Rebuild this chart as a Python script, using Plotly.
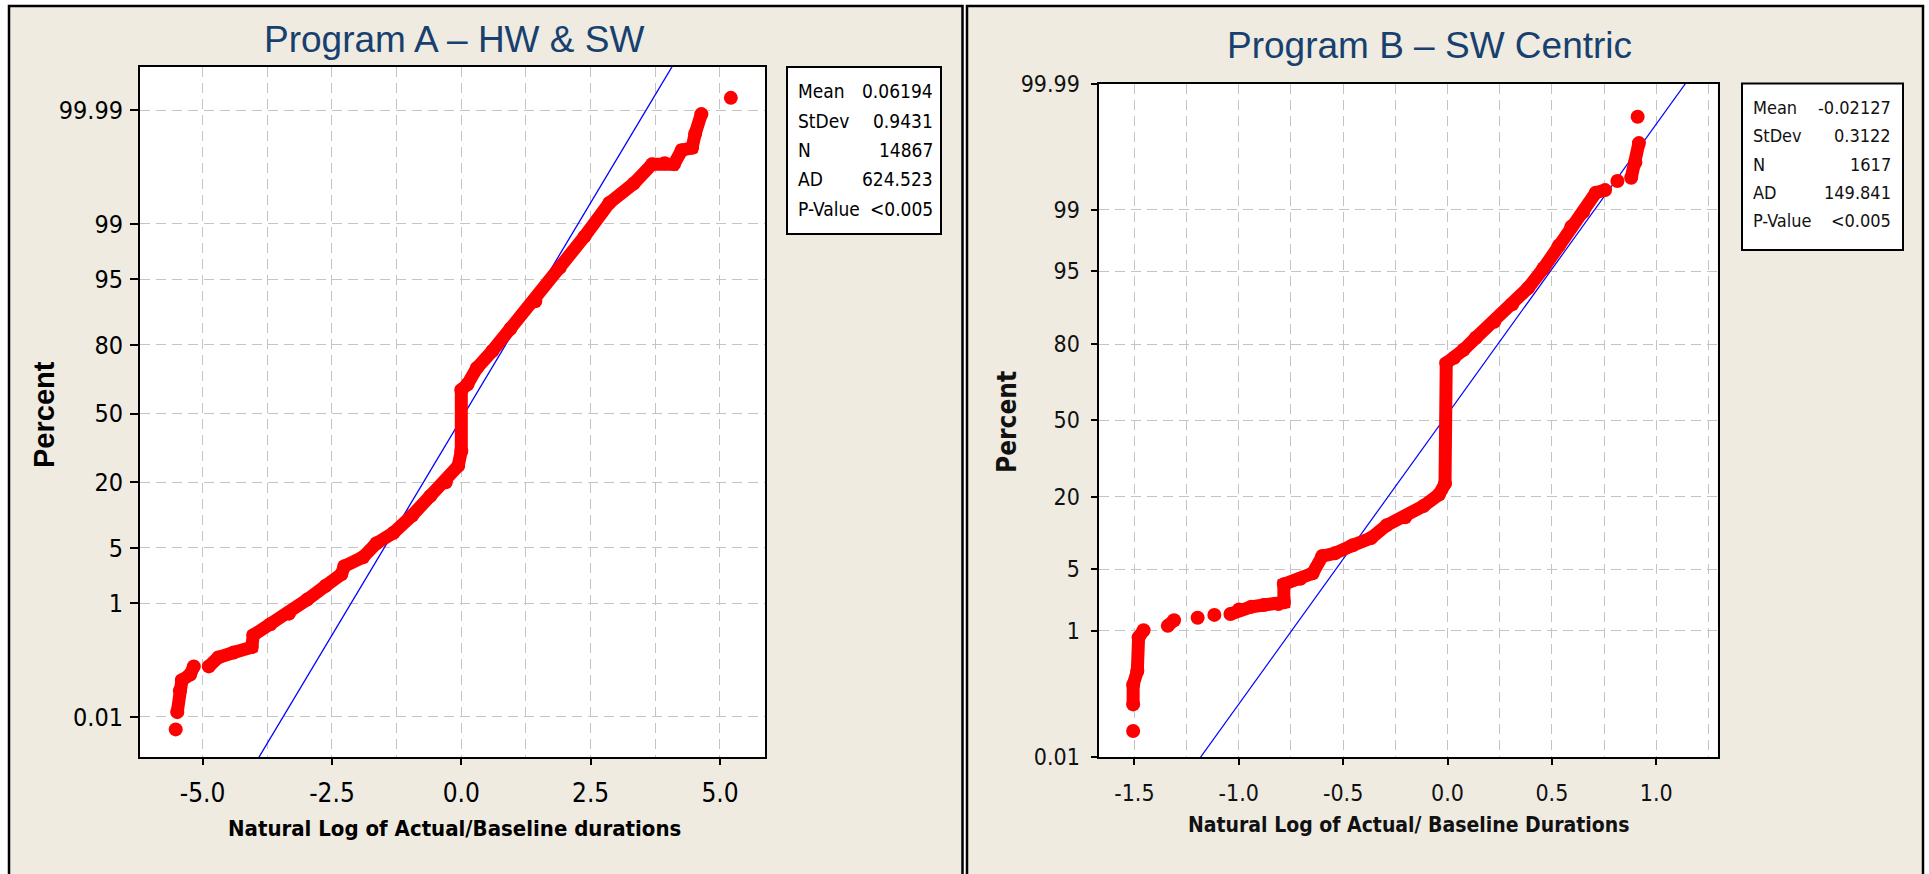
from statistics import NormalDist
import plotly.graph_objects as go

W, H = 1929, 874

# ---------------- data ----------------
# Program A : x = ln(actual/baseline), percent = cumulative percent (None = gap between dot groups)
A_x = [-5.52, None, -5.49, -5.44, -5.40, -5.24, -5.17, None,
       -4.88, -4.70, -4.40, -4.05, -4.02, -3.69, -3.33, -2.98, -2.62, -2.32, -2.26,
       -1.90, -1.64, -1.31, -0.95, -0.60, -0.30, -0.06, 0.0, 0.0, 0.12, 0.30, 0.60,
       0.95, 1.43, 1.90, 2.38, 2.86, 3.33, 3.69, 3.93, 4.11, 4.26, 4.46, 4.52, 4.64,
       None, 5.21]
A_pct = [0.0054, None, 0.0126, 0.034, 0.054, 0.069, 0.097, None,
         0.097, 0.139, 0.17, 0.21, 0.33, 0.49, 0.71, 1.13, 1.74, 2.44, 3.07,
         3.92, 5.6, 7.2, 10.6, 15.6, 20.0, 26.1, 32.3, 61.4, 64.1, 71.2, 77.9,
         85.1, 91.6, 96.3, 98.5, 99.51, 99.76, 99.889, 99.893, 99.889, 99.938, 99.944, 99.970, 99.988,
         None, 99.9946]

# Program B
B_x = [-1.506, None, -1.506, -1.506, -1.486, -1.48, -1.456, None,
       -1.34, -1.31, None, -1.197, None, -1.117, None,
       -1.04, -0.999, -0.94, -0.88, -0.81, -0.784, -0.784, -0.705, -0.646, -0.60, -0.54,
       -0.454, -0.366, -0.292, -0.203, -0.115, -0.041, -0.012, -0.006, 0.032, 0.077,
       0.136, 0.224, 0.31, 0.386, 0.46, 0.534, 0.593, 0.65, 0.71, 0.755, None,
       0.814, None, 0.88, 0.90, 0.917, None, 0.911]
B_pct = [0.030, None, 0.085, 0.175, 0.28, 0.82, 1.02, None,
         1.16, 1.36, None, 1.46, None, 1.58, None,
         1.62, 1.83, 1.97, 2.07, 2.12, 2.22, 3.51, 4.01, 4.55, 6.68, 7.08,
         8.38, 9.68, 12.3, 14.2, 17.2, 20.6, 24.2, 73.6, 75.5, 78.2,
         81.9, 86.2, 90.0, 92.8, 95.35, 97.32, 98.38, 98.93, 99.40, 99.45, None,
         99.59, None, 99.63, 99.78, 99.89, None, 99.96]

stat_labels = ["Mean", "StDev", "N", "AD", "P-Value"]
A_stat_values = ["0.06194", "0.9431", "14867", "624.523", "<0.005"]
B_stat_values = ["-0.02127", "0.3122", "1617", "149.841", "<0.005"]
A_mean, A_sd = 0.06194, 0.9431
B_mean, B_sd = -0.02127, 0.3122

A_title = "Program A – HW & SW"
B_title = "Program B – SW Centric"
A_xtitle = "Natural Log of Actual/Baseline durations"
B_xtitle = "Natural Log of Actual/ Baseline Durations"
y_title = "Percent"

pct_ticks = [0.01, 1, 5, 20, 50, 80, 95, 99, 99.99]
pct_ticktext = ["0.01", "1", "5", "20", "50", "80", "95", "99", "99.99"]
A_xticks = [-5.0, -2.5, 0.0, 2.5, 5.0]
B_xticks = [-1.5, -1.0, -0.5, 0.0, 0.5, 1.0]

# ---------------- helpers ----------------
nd = NormalDist()


def zt(p):
    return None if p is None else nd.inv_cdf(p / 100.0)


def px(x):
    return x / W


def py(y):
    return 1 - y / H


FONT_A = "DejaVu Sans Condensed, sans-serif"
FONT_B = "DejaVu Sans Condensed, Tahoma, Verdana, sans-serif"
FONT_T = "Liberation Sans, Arial, sans-serif"
BEIGE = "#EFEBE1"
RED = "#FF0000"
BLUE = "#0000FF"
GRID = "#C4C4C4"

fig = go.Figure()

# Fitted normal lines (percent = Phi((x - mean) / sd))
z_end = [-4.8, 4.8]
fig.add_trace(go.Scatter(x=[A_mean + A_sd * z for z in z_end], y=z_end, mode="lines",
                         line=dict(color=BLUE, width=1.3), xaxis="x", yaxis="y", hoverinfo="skip"))
fig.add_trace(go.Scatter(x=[B_mean + B_sd * z for z in z_end], y=z_end, mode="lines",
                         line=dict(color=BLUE, width=1.2), xaxis="x2", yaxis="y2", hoverinfo="skip"))

# Data
fig.add_trace(go.Scatter(x=A_x, y=[zt(p) for p in A_pct], mode="lines+markers",
                         line=dict(color=RED, width=13), marker=dict(color=RED, size=14),
                         xaxis="x", yaxis="y"))
fig.add_trace(go.Scatter(x=B_x, y=[zt(p) for p in B_pct], mode="lines+markers",
                         line=dict(color=RED, width=13), marker=dict(color=RED, size=14),
                         xaxis="x2", yaxis="y2"))

zticks = [zt(p) for p in pct_ticks]

axis_common = dict(showline=True, mirror=True, linecolor="black", linewidth=2,
                   ticks="outside", tickcolor="black", zeroline=False, automargin=False,
                   showgrid=True, gridcolor=GRID, griddash="10px,6px", gridwidth=1.3)

fig.update_layout(
    width=W, height=H, margin=dict(l=0, r=0, t=0, b=0, autoexpand=False),
    paper_bgcolor=BEIGE, plot_bgcolor="white", showlegend=False,
    xaxis=dict(domain=[px(140), px(765)], range=[-6.21, 5.87], anchor="y",
               tickvals=A_xticks, ticktext=[f"{v:.1f}" for v in A_xticks],
               ticklen=6, tickwidth=2, ticklabelstandoff=6,
               tickfont=dict(family=FONT_A, size=26, color="black"),
               minor=dict(dtick=1.25, tick0=0, showgrid=True, gridcolor=GRID,
                          griddash="10px,6px", gridwidth=1.3, ticks=""),
               **axis_common),
    yaxis=dict(domain=[py(757), py(67)], range=[-4.21, 4.25], anchor="x",
               tickvals=zticks, ticktext=pct_ticktext, ticklen=8, tickwidth=2,
               ticklabelstandoff=2,
               tickfont=dict(family=FONT_A, size=25, color="black"),
               **axis_common),
    xaxis2=dict(domain=[px(1098.5), px(1717.6)], range=[-1.672, 1.294], anchor="y2",
                tickvals=B_xticks, ticktext=[f"{v:.1f}" for v in B_xticks],
                ticklen=6, tickwidth=2, ticklabelstandoff=8,
                tickfont=dict(family=FONT_B, size=23, color="#111111"),
                minor=dict(dtick=0.25, tick0=0, showgrid=True, gridcolor=GRID,
                           griddash="10px,6px", gridwidth=1.3, ticks=""),
                **axis_common),
    yaxis2=dict(domain=[py(757), py(83.6)], range=[zt(0.01), zt(99.99)], anchor="x2",
                tickvals=zticks, ticktext=pct_ticktext, ticklen=6, tickwidth=2,
                ticklabelstandoff=6,
                tickfont=dict(family=FONT_B, size=23, color="#111111"),
                **axis_common),
)

shapes = []
# white strips outside panels
for x0, x1, y0, y1 in [(0, 8, 0, H), (0, W, 0, 5), (963, 967, 0, H), (1924, W, 0, H)]:
    shapes.append(dict(type="rect", xref="paper", yref="paper", x0=px(x0), x1=px(x1),
                       y0=py(y1), y1=py(y0), fillcolor="white", line=dict(width=0), layer="above"))
# panel borders
for x0, x1 in [(9, 962.5), (967, 1923)]:
    shapes.append(dict(type="rect", xref="paper", yref="paper", x0=px(x0), x1=px(x1),
                       y0=-0.1, y1=py(6), line=dict(color="black", width=2.5), layer="above"))
# stats boxes
for x0, x1, y0, y1 in [(787, 941, 67, 234), (1742, 1903, 83.6, 250)]:
    shapes.append(dict(type="rect", xref="paper", yref="paper", x0=px(x0), x1=px(x1),
                       y0=py(y1), y1=py(y0), fillcolor="white",
                       line=dict(color="black", width=2), layer="above"))
fig.update_layout(shapes=shapes)

ann = []
# titles
ann.append(dict(text=A_title, x=px(454), y=py(39), xref="paper", yref="paper", showarrow=False,
                xanchor="center", yanchor="middle", font=dict(family=FONT_T, size=37, color="#17406E")))
ann.append(dict(text=B_title, x=px(1429), y=py(46), xref="paper", yref="paper", showarrow=False,
                xanchor="center", yanchor="middle", font=dict(family=FONT_T, size=37, color="#17406E")))
# axis titles
ann.append(dict(text="<b>" + A_xtitle + "</b>", x=px(454), y=py(828), xref="paper", yref="paper",
                showarrow=False, xanchor="center", yanchor="middle",
                font=dict(family=FONT_A, size=22, color="black")))
ann.append(dict(text="<b>" + B_xtitle + "</b>", x=px(1408), y=py(825), xref="paper", yref="paper",
                showarrow=False, xanchor="center", yanchor="middle",
                font=dict(family=FONT_B, size=21, color="#111111")))
ann.append(dict(text="<b>" + y_title + "</b>", x=px(44), y=py(415), xref="paper", yref="paper",
                showarrow=False, xanchor="center", yanchor="middle", textangle=-90,
                font=dict(family=FONT_T, size=29, color="black")))
ann.append(dict(text="<b>" + y_title + "</b>", x=px(1007), y=py(422), xref="paper", yref="paper",
                showarrow=False, xanchor="center", yanchor="middle", textangle=-90,
                font=dict(family=FONT_B, size=26, color="#111111")))
# stats
for i, (lab, a_val, b_val) in enumerate(zip(stat_labels, A_stat_values, B_stat_values)):
    ya = 91 + i * 29.5
    yb = 107.5 + i * 28.3
    ann.append(dict(text=lab, x=px(796), y=py(ya), xref="paper", yref="paper", showarrow=False,
                    xanchor="left", yanchor="middle", font=dict(family=FONT_A, size=19, color="black")))
    ann.append(dict(text=a_val, x=px(935), y=py(ya), xref="paper", yref="paper", showarrow=False,
                    xanchor="right", yanchor="middle", font=dict(family=FONT_A, size=19, color="black")))
    ann.append(dict(text=lab, x=px(1751), y=py(yb), xref="paper", yref="paper", showarrow=False,
                    xanchor="left", yanchor="middle", font=dict(family=FONT_B, size=18, color="#111111")))
    ann.append(dict(text=b_val, x=px(1893), y=py(yb), xref="paper", yref="paper", showarrow=False,
                    xanchor="right", yanchor="middle", font=dict(family=FONT_B, size=18, color="#111111")))
fig.update_layout(annotations=ann)

fig.write_html("out.html")
